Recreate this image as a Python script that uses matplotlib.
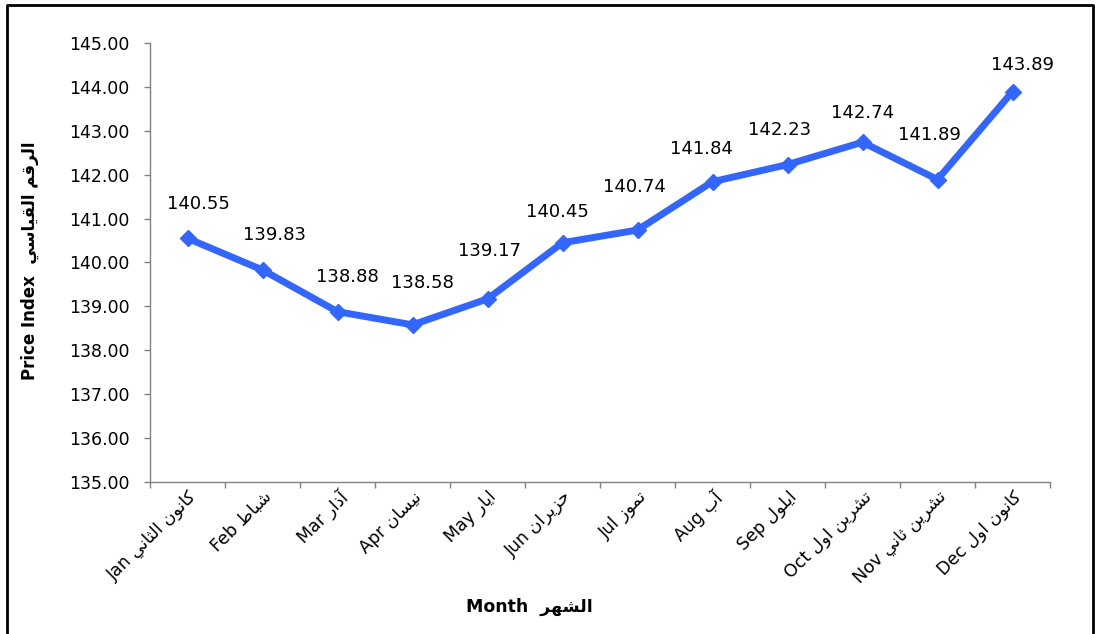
import matplotlib
matplotlib.use('Agg')
import matplotlib.pyplot as plt
from matplotlib.lines import Line2D
from matplotlib.ticker import FormatStrFormatter

plt.rcParams['font.family'] = ['DejaVu Sans']

# data
MONTHS_EN = ['Jan', 'Feb', 'Mar', 'Apr', 'May', 'Jun',
             'Jul', 'Aug', 'Sep', 'Oct', 'Nov', 'Dec']
MONTHS_AR = ['كانون الثاني', 'شباط', 'آذار', 'نيسان', 'ايار', 'حزيران',
             'تموز', 'آب', 'ايلول', 'تشرين اول', 'تشرين ثاني', 'كانون اول']
PRICE_INDEX = [140.55, 139.83, 138.88, 138.58, 139.17, 140.45,
               140.74, 141.84, 142.23, 142.74, 141.89, 143.89]

# where each value label sits relative to its point (pixels)
LABEL_OFFSETS = [(11, 36), (12, 36), (10, 36), (10, 43), (2, 49), (-5, 32),
                 (-3, 45), (-11, 34), (-8, 36), (0, 31), (-8, 46), (10, 28)]

# presentation forms: isolated, final, initial, medial
FORMS = {
    'ا': (0xFE8D, 0xFE8E, None, None),
    'آ': (0xFE81, 0xFE82, None, None),
    'ب': (0xFE8F, 0xFE90, 0xFE91, 0xFE92),
    'ت': (0xFE95, 0xFE96, 0xFE97, 0xFE98),
    'ث': (0xFE99, 0xFE9A, 0xFE9B, 0xFE9C),
    'ح': (0xFEA1, 0xFEA2, 0xFEA3, 0xFEA4),
    'ذ': (0xFEAB, 0xFEAC, None, None),
    'ر': (0xFEAD, 0xFEAE, None, None),
    'ز': (0xFEAF, 0xFEB0, None, None),
    'س': (0xFEB1, 0xFEB2, 0xFEB3, 0xFEB4),
    'ش': (0xFEB5, 0xFEB6, 0xFEB7, 0xFEB8),
    'ط': (0xFEC1, 0xFEC2, 0xFEC3, 0xFEC4),
    'ق': (0xFED5, 0xFED6, 0xFED7, 0xFED8),
    'ك': (0xFED9, 0xFEDA, 0xFEDB, 0xFEDC),
    'ل': (0xFEDD, 0xFEDE, 0xFEDF, 0xFEE0),
    'م': (0xFEE1, 0xFEE2, 0xFEE3, 0xFEE4),
    'ن': (0xFEE5, 0xFEE6, 0xFEE7, 0xFEE8),
    'ه': (0xFEE9, 0xFEEA, 0xFEEB, 0xFEEC),
    'و': (0xFEED, 0xFEEE, None, None),
    'ي': (0xFEF1, 0xFEF2, 0xFEF3, 0xFEF4),
}


def ar(text):
    # join the letters and put them in visual (right to left) order
    out = []
    for i, ch in enumerate(text):
        f = FORMS.get(ch)
        if f is None:
            out.append(ch)
            continue
        prev = FORMS.get(text[i - 1]) if i > 0 else None
        nxt = text[i + 1] if i + 1 < len(text) else ''
        join_prev = prev is not None and prev[2] is not None
        join_next = f[2] is not None and nxt in FORMS
        if join_prev and join_next:
            c = f[3]
        elif join_prev:
            c = f[1]
        elif join_next:
            c = f[2]
        else:
            c = f[0]
        out.append(chr(c))
    return ''.join(reversed(out))


W, H = 1097, 634
fig = plt.figure(figsize=(W / 100, H / 100), dpi=100)
ax = fig.add_axes([150 / W, 1 - 482 / H, 900 / W, 439 / H])

x = list(range(len(PRICE_INDEX)))
ax.plot(x, PRICE_INDEX, color='#3366FF', lw=5, marker='D', ms=8,
        mec='#3366FF', mfc='#3366FF', zorder=3, clip_on=False)

for i, v in enumerate(PRICE_INDEX):
    dx, dy = LABEL_OFFSETS[i]
    ax.annotate('%.2f' % v, (x[i], v), xytext=(dx, dy - 6.5),
                textcoords='offset pixels', ha='center', va='baseline',
                fontsize=13)

ax.set_xlim(-0.5, 11.5)
ax.set_ylim(135, 145)
ax.set_yticks(range(135, 146))
ax.yaxis.set_major_formatter(FormatStrFormatter('%.2f'))

ax.set_xticks(x)
ax.set_xticklabels([en + ' ' + ar(a) for en, a in zip(MONTHS_EN, MONTHS_AR)],
                   rotation=45, ha='right', va='top', rotation_mode='anchor')
ax.set_xticks([i - 0.5 for i in range(13)], minor=True)
ax.tick_params(axis='x', which='major', length=0, pad=4, labelsize=12.5)
ax.tick_params(axis='x', which='minor', length=4.5, color='#808080', width=1)
ax.tick_params(axis='y', length=4.5, color='#808080', width=1, pad=10,
               labelsize=12.5)

for s in ['top', 'right']:
    ax.spines[s].set_visible(False)
for s in ['left', 'bottom']:
    ax.spines[s].set_color('#808080')
    ax.spines[s].set_linewidth(1)

fig.text(30 / W, 1 - 261 / H, 'Price Index  ' + ar('الرقم القياسي'),
         rotation=90, ha='center', va='center', fontsize=12, weight='bold')
fig.text(529 / W, 1 - 607 / H, 'Month  ' + ar('الشهر'),
         ha='center', va='center', fontsize=12.5, weight='bold')

# frame round the chart (open at the bottom)
fig.add_artist(Line2D([6.5 / W, 6.5 / W, 1093 / W, 1093 / W],
                      [0, 1 - 4.5 / H, 1 - 4.5 / H, 0],
                      transform=fig.transFigure, color='black', lw=2))

fig.savefig('out.png', dpi=100)
